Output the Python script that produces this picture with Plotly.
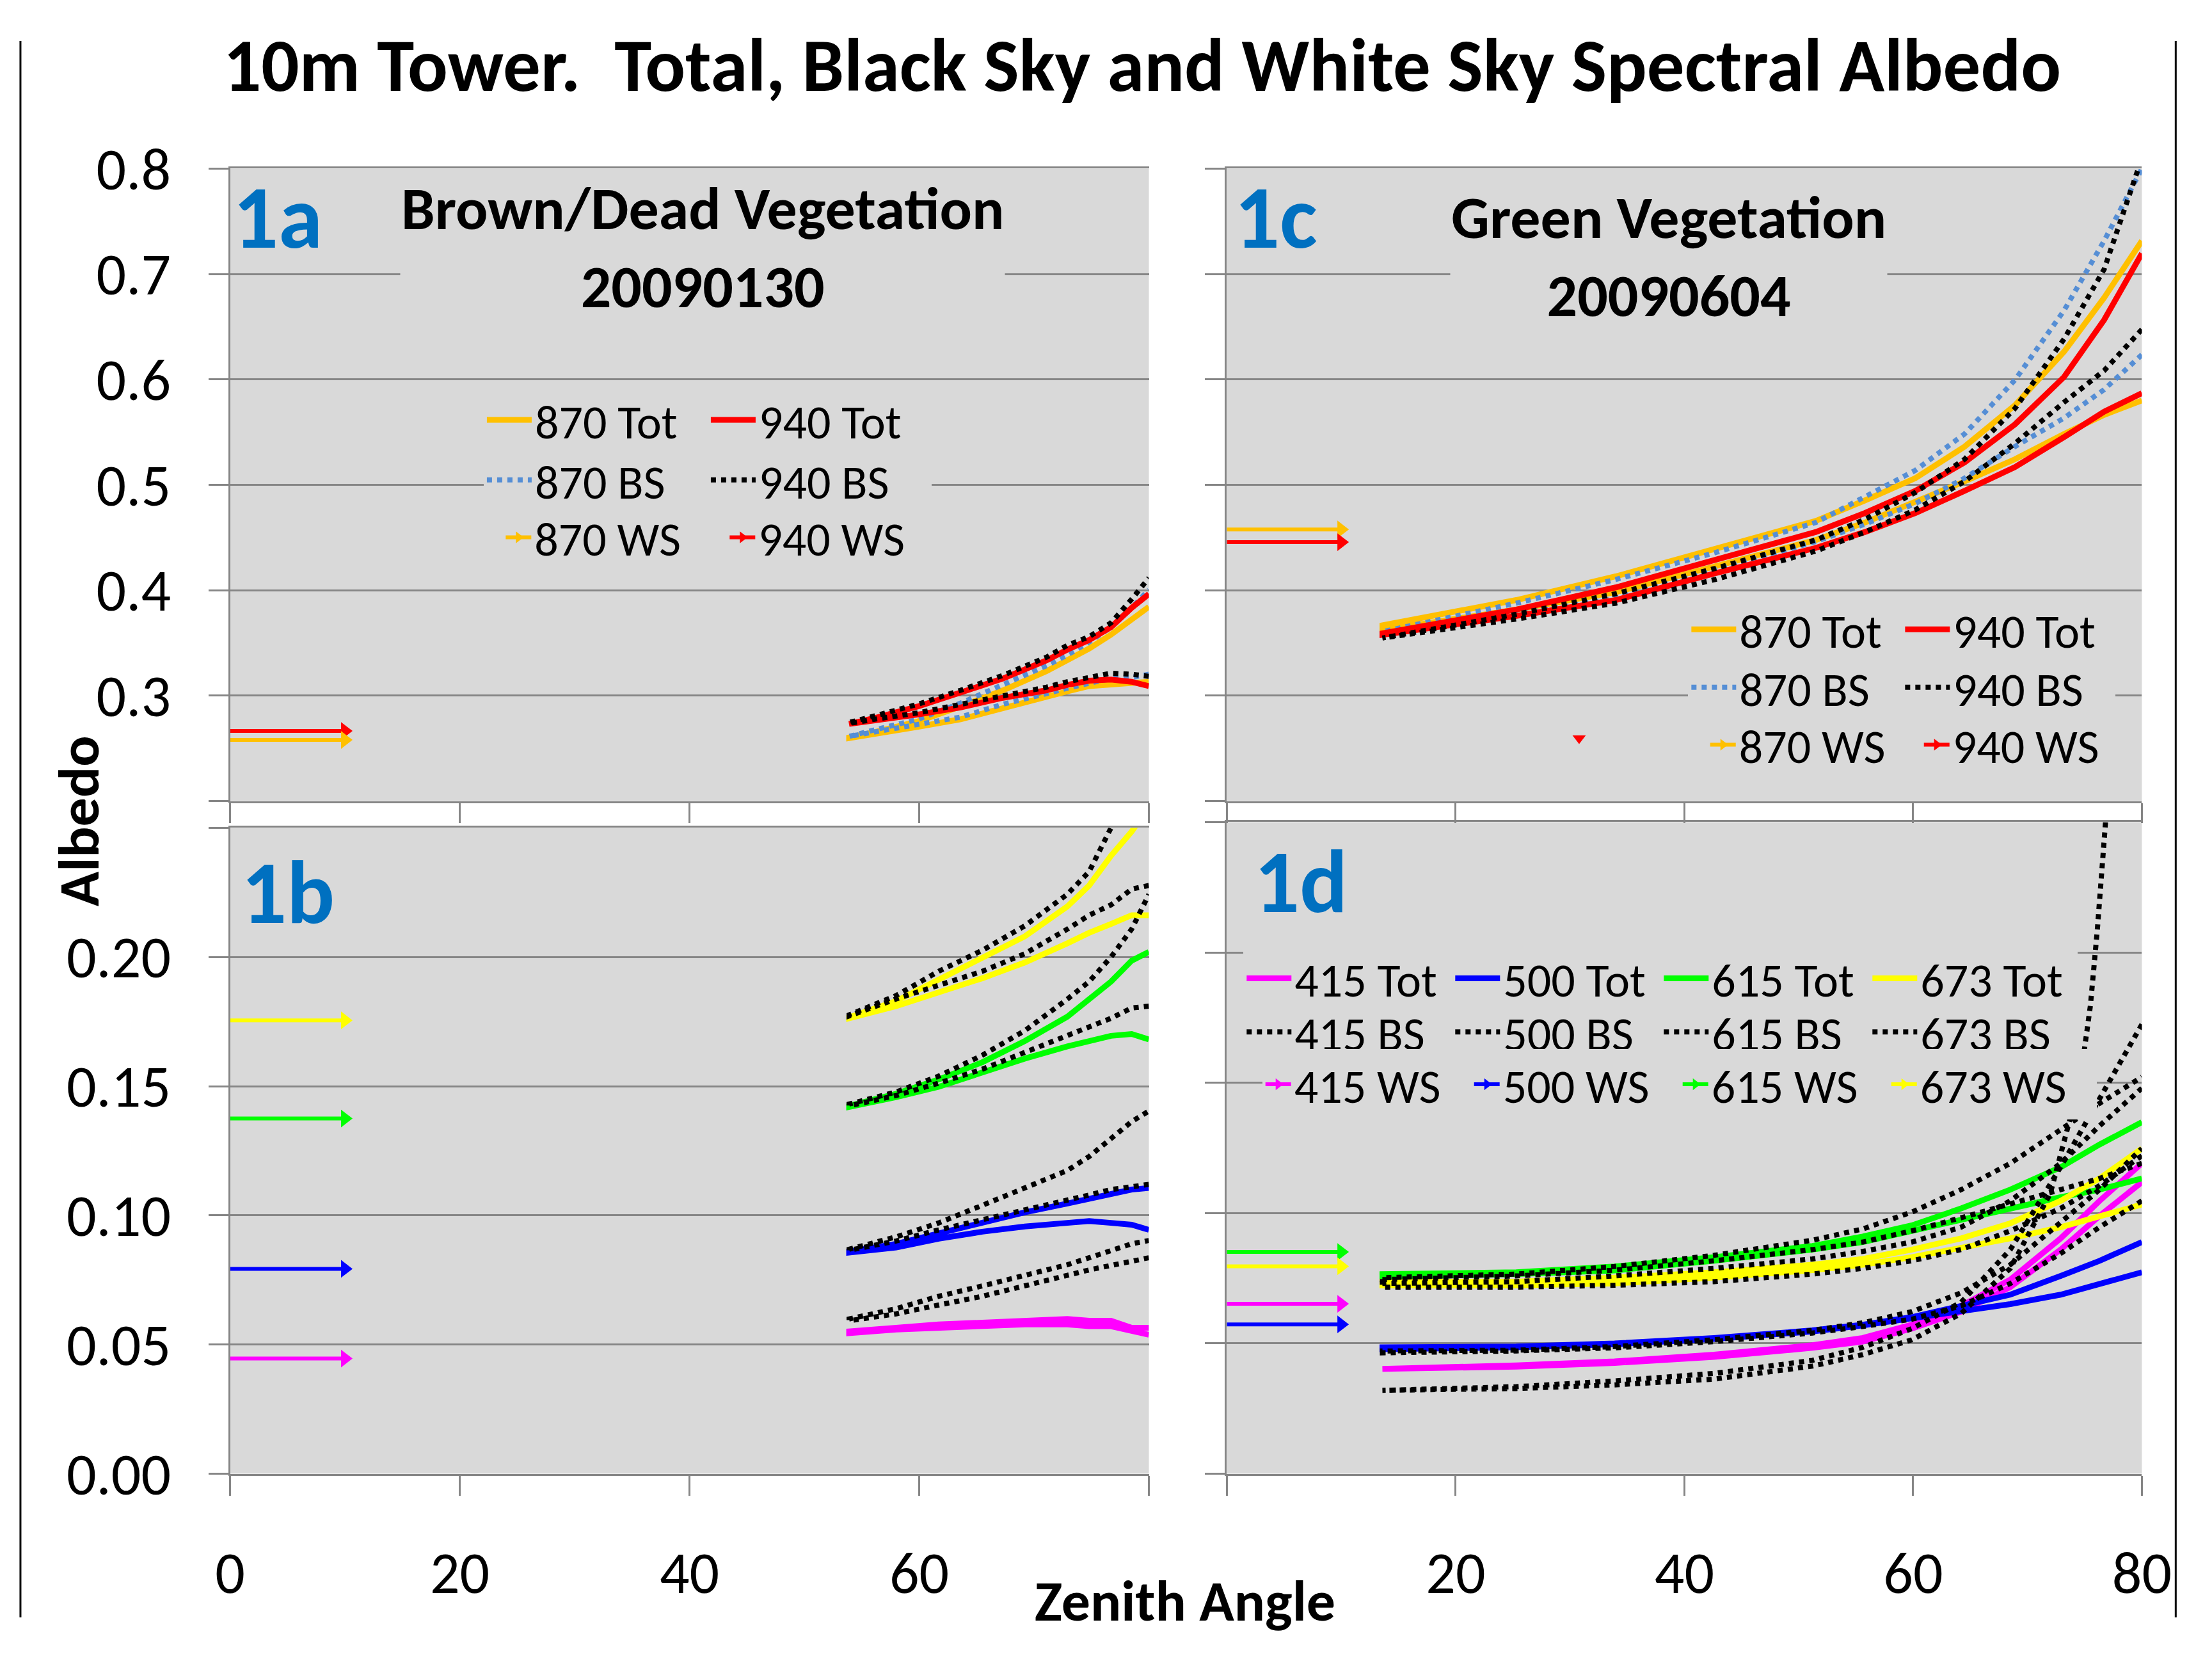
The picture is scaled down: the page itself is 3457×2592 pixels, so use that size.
import plotly.graph_objects as go

# ---------------------------------------------------------------- data
# Panel 1a : Brown/Dead Vegetation 20090130 (zenith angle, albedo)
ZEN_1A = [53.9, 56.1, 59.9, 63.6, 67.3, 71.1, 72.9, 74.8, 76.7, 78.5, 80.0]
A_870_TOT_UP = [0.2604, 0.2654, 0.2756, 0.2898, 0.3051, 0.3234, 0.3335, 0.3447, 0.3579, 0.3732, 0.3843]
A_870_TOT_LO = [0.2598, 0.2638, 0.2705, 0.2776, 0.2888, 0.2990, 0.3041, 0.3091, 0.3112, 0.3122, 0.3132]
A_870_BS_UP = [0.2614, 0.2675, 0.2776, 0.2929, 0.3102, 0.3285, 0.3386, 0.3508, 0.3650, 0.3833, 0.4006]
A_870_BS_LO = [0.2614, 0.2654, 0.2726, 0.2797, 0.2919, 0.3020, 0.3071, 0.3122, 0.3163, 0.3173, 0.3203]
A_940_TOT_UP = [0.2732, 0.2787, 0.2898, 0.3030, 0.3163, 0.3335, 0.3437, 0.3528, 0.3650, 0.3833, 0.3965]
A_940_TOT_LO = [0.2732, 0.2766, 0.2821, 0.2888, 0.2980, 0.3051, 0.3102, 0.3142, 0.3152, 0.3132, 0.3091]
A_940_BS_UP = [0.2746, 0.2807, 0.2919, 0.3051, 0.3193, 0.3366, 0.3478, 0.3559, 0.3691, 0.3915, 0.4118]
A_940_BS_LO = [0.2736, 0.2776, 0.2837, 0.2909, 0.3000, 0.3081, 0.3132, 0.3173, 0.3213, 0.3203, 0.3183]
A_870_WS = 0.2580
A_940_WS = 0.2665

# Panel 1b : Brown/Dead Vegetation, visible bands
ZEN_1B = [53.9, 58.0, 61.7, 65.5, 69.2, 72.9, 74.8, 76.7, 78.5, 80.0]
B_673_TOT_UP = [0.1767, 0.1830, 0.1911, 0.1993, 0.2080, 0.2196, 0.2277, 0.2392, 0.2486, 0.2580]
B_673_TOT_LO = [0.1763, 0.1810, 0.1864, 0.1918, 0.1979, 0.2053, 0.2094, 0.2128, 0.2162, 0.2162]
B_673_BS_UP = [0.1776, 0.1851, 0.1945, 0.2026, 0.2121, 0.2243, 0.2331, 0.2500, 0.2680, 0.2800]
B_673_BS_LO = [0.1772, 0.1838, 0.1891, 0.1945, 0.2013, 0.2108, 0.2162, 0.2202, 0.2263, 0.2277]
B_615_TOT_UP = [0.1424, 0.1471, 0.1526, 0.1593, 0.1675, 0.1769, 0.1837, 0.1905, 0.1986, 0.2020]
B_615_TOT_LO = [0.1420, 0.1458, 0.1498, 0.1553, 0.1607, 0.1654, 0.1675, 0.1695, 0.1702, 0.1681]
B_615_BS_UP = [0.1431, 0.1478, 0.1539, 0.1620, 0.1715, 0.1837, 0.1905, 0.2000, 0.2108, 0.2243]
B_615_BS_LO = [0.1424, 0.1464, 0.1512, 0.1566, 0.1627, 0.1695, 0.1729, 0.1763, 0.1803, 0.1810]
B_500_TOT_UP = [0.0860, 0.0890, 0.0930, 0.0971, 0.1012, 0.1046, 0.1066, 0.1086, 0.1100, 0.1106]
B_500_TOT_LO = [0.0856, 0.0876, 0.0910, 0.0937, 0.0957, 0.0971, 0.0978, 0.0971, 0.0964, 0.0944]
B_500_BS_UP = [0.0869, 0.0917, 0.0971, 0.1039, 0.1106, 0.1174, 0.1228, 0.1296, 0.1363, 0.1404]
B_500_BS_LO = [0.0865, 0.0901, 0.0944, 0.0985, 0.1025, 0.1059, 0.1079, 0.1100, 0.1113, 0.1120]
B_415_TOT_UP = [0.0551, 0.0565, 0.0578, 0.0585, 0.0592, 0.0599, 0.0592, 0.0592, 0.0565, 0.0565]
B_415_TOT_LO = [0.0544, 0.0558, 0.0565, 0.0571, 0.0578, 0.0578, 0.0571, 0.0571, 0.0551, 0.0538]
B_415_BS_UP = [0.0599, 0.0639, 0.0687, 0.0727, 0.0768, 0.0809, 0.0836, 0.0863, 0.0890, 0.0903]
B_415_BS_LO = [0.0592, 0.0619, 0.0653, 0.0687, 0.0727, 0.0768, 0.0789, 0.0809, 0.0823, 0.0836]
B_673_WS = 0.1755
B_615_WS = 0.1375
B_500_WS = 0.0793
B_415_WS = 0.0446

# Panel 1c : Green Vegetation 20090604
ZEN_1C = [13.6, 25.3, 34.0, 42.7, 51.5, 55.8, 60.2, 64.5, 68.9, 73.2, 76.7, 80.0]
C_870_TOT_UP = [0.3667, 0.3907, 0.4132, 0.4387, 0.4658, 0.4853, 0.5063, 0.5363, 0.5754, 0.6264, 0.6775, 0.7315]
C_870_TOT_LO = [0.3622, 0.3817, 0.3982, 0.4222, 0.4477, 0.4643, 0.4838, 0.5033, 0.5243, 0.5483, 0.5664, 0.5800]
C_870_BS_UP = [0.3607, 0.3877, 0.4102, 0.4357, 0.4643, 0.4883, 0.5138, 0.5483, 0.5994, 0.6655, 0.7315, 0.8000]
C_870_BS_LO = [0.3577, 0.3772, 0.3922, 0.4192, 0.4462, 0.4628, 0.4823, 0.5063, 0.5363, 0.5634, 0.5904, 0.6234]
C_940_TOT_UP = [0.3592, 0.3817, 0.4027, 0.4282, 0.4553, 0.4733, 0.4943, 0.5213, 0.5574, 0.6024, 0.6565, 0.7195]
C_940_TOT_LO = [0.3577, 0.3757, 0.3907, 0.4162, 0.4402, 0.4553, 0.4733, 0.4943, 0.5168, 0.5453, 0.5694, 0.5870]
C_940_BS_UP = [0.3547, 0.3772, 0.3967, 0.4207, 0.4477, 0.4673, 0.4928, 0.5243, 0.5724, 0.6384, 0.7045, 0.8100]
C_940_BS_LO = [0.3547, 0.3727, 0.3877, 0.4102, 0.4372, 0.4553, 0.4763, 0.5033, 0.5393, 0.5784, 0.6084, 0.6474]
C_870_WS = 0.4577
C_940_WS = 0.4456
C_STRAY_ZEN = [30.8]
C_STRAY_ALB = [0.2595]

# Panel 1d : Green Vegetation, visible bands
ZEN_1D = [13.6, 25.3, 33.9, 42.6, 51.2, 55.6, 59.9, 64.2, 68.5, 72.9, 76.3, 80.0]
ZEN_1D_SPIKE = [13.6, 25.3, 33.9, 42.6, 51.2, 55.6, 59.9, 64.2, 68.5, 72.0, 73.3, 74.6, 75.5, 76.1, 76.8, 77.2]
D_415_TOT_UP = [0.0406, 0.0416, 0.0431, 0.0457, 0.0493, 0.0521, 0.0572, 0.0644, 0.0745, 0.0903, 0.1047, 0.1191]
D_415_TOT_LO = [0.0402, 0.0411, 0.0425, 0.0448, 0.0483, 0.0507, 0.0557, 0.0622, 0.0716, 0.0860, 0.0989, 0.1119]
D_415_BS_UP = [0.0320, 0.0327, 0.0341, 0.0363, 0.0413, 0.0457, 0.0514, 0.0615, 0.0788, 0.1076, 0.1292, 0.1508, 0.1796, 0.2084, 0.2487, 0.2730]
D_415_BS_LO = [0.0320, 0.0334, 0.0356, 0.0385, 0.0435, 0.0485, 0.0557, 0.0658, 0.0860, 0.1177, 0.1436, 0.1724]
D_500_TOT_UP = [0.0485, 0.0488, 0.0500, 0.0521, 0.0550, 0.0572, 0.0601, 0.0644, 0.0687, 0.0759, 0.0817, 0.0889]
D_500_TOT_LO = [0.0478, 0.0485, 0.0497, 0.0517, 0.0546, 0.0569, 0.0593, 0.0622, 0.0651, 0.0687, 0.0730, 0.0773]
D_500_BS_UP = [0.0471, 0.0474, 0.0488, 0.0514, 0.0550, 0.0579, 0.0622, 0.0694, 0.0802, 0.0961, 0.1090, 0.1248]
D_500_BS_LO = [0.0464, 0.0471, 0.0483, 0.0507, 0.0540, 0.0565, 0.0593, 0.0644, 0.0730, 0.0845, 0.0946, 0.1047]
D_615_TOT_UP = [0.0766, 0.0773, 0.0795, 0.0831, 0.0874, 0.0910, 0.0953, 0.1018, 0.1090, 0.1176, 0.1263, 0.1349]
D_615_TOT_LO = [0.0756, 0.0766, 0.0780, 0.0817, 0.0860, 0.0889, 0.0932, 0.0975, 0.1018, 0.1061, 0.1090, 0.1133]
D_615_BS_UP = [0.0752, 0.0766, 0.0795, 0.0838, 0.0896, 0.0939, 0.1004, 0.1090, 0.1191, 0.1320, 0.1421, 0.1522]
D_615_BS_LO = [0.0745, 0.0759, 0.0781, 0.0817, 0.0860, 0.0889, 0.0932, 0.0982, 0.1033, 0.1090, 0.1133, 0.1191]
D_673_TOT_UP = [0.0737, 0.0737, 0.0752, 0.0773, 0.0802, 0.0824, 0.0860, 0.0903, 0.0961, 0.1047, 0.1133, 0.1248]
D_673_TOT_LO = [0.0723, 0.0723, 0.0730, 0.0752, 0.0781, 0.0802, 0.0831, 0.0867, 0.0903, 0.0946, 0.0989, 0.1033]
D_673_BS_UP = [0.0730, 0.0737, 0.0759, 0.0788, 0.0824, 0.0853, 0.0889, 0.0946, 0.1047, 0.1191, 0.1335, 0.1479]
D_673_BS_LO = [0.0716, 0.0716, 0.0723, 0.0737, 0.0766, 0.0788, 0.0817, 0.0860, 0.0932, 0.1018, 0.1105, 0.1220]
D_415_WS = 0.0652
D_500_WS = 0.0573
D_615_WS = 0.0851
D_673_WS = 0.0796

WS_ZEN = [0, 10]  # white-sky values drawn as short arrows at the left

X_TICKS = [0, 20, 40, 60, 80]
X_TEXT_LEFT = ["0", "20", "40", "60", ""]
X_TEXT_RIGHT = ["", "20", "40", "60", "80"]
Y_TICKS_TOP = [0.2, 0.3, 0.4, 0.5, 0.6, 0.7, 0.8]
Y_TEXT_TOP = ["", "0.3", "0.4", "0.5", "0.6", "0.7", "0.8"]
Y_TICKS_BOT = [0.0, 0.05, 0.10, 0.15, 0.20, 0.25]
Y_TEXT_BOT = ["0.00", "0.05", "0.10", "0.15", "0.20", ""]

# ---------------------------------------------------------------- style
FONT = "Carlito, Calibri, Lato, sans-serif"
PLOT_BG = "#D9D9D9"
GRID = "#868686"
C870 = "#FFC000"
C940 = "#FF0000"
C870BS = "#558ED5"
C415 = "#FF00FF"
C500 = "#0000FF"
C615 = "#00FF00"
C673 = "#FFFF00"
LABEL_BLUE = "#0070C0"

W, H, OFF = 3441, 2576, 8
# mapping between target-image pixels and page pixels (measured)
SX, AX, SY, AY = 0.981, 21.2, 0.9589, 54.3


def px(X):
    return ((X - AX) / SX - OFF) / W


def py(Y):
    return 1 - ((Y - AY) / SY - OFF) / H


fig = go.Figure()


def loop(zen_lo, lo, zen_up, up):
    return list(zen_lo[::-1]) + list(zen_up), list(lo[::-1]) + list(up)


def add_curve(zen_lo, lo, zen_up, up, name, color, dash, ax, legend, rank, show):
    x, y = loop(zen_lo, lo, zen_up, up)
    fig.add_trace(go.Scatter(
        x=x, y=y, mode="lines", name=name,
        line=dict(color=color, width=9 if dash == "solid" else 8, dash=dash),
        xaxis="x" + ax, yaxis="y" + ax,
        legend=legend, legendrank=rank,
        showlegend=show, hoverinfo="skip"))


def add_ws(val, name, color, ax, legend, rank, show):
    # drawn from the arrow tip back to the start: arrowhead at the tip only
    fig.add_trace(go.Scatter(
        x=WS_ZEN[::-1], y=[val, val], mode="lines+markers", name=name,
        line=dict(color=color, width=6),
        marker=dict(symbol=["triangle-right", "line-ew"], size=24, color=color,
                    line=dict(width=0)),
        xaxis="x" + ax, yaxis="y" + ax,
        legend=legend, legendrank=rank,
        showlegend=show, hoverinfo="skip"))


# ---- 1a
add_curve(ZEN_1A, A_870_TOT_LO, ZEN_1A, A_870_TOT_UP, "870 Tot", C870, "solid", "", "legend", 1, True)
add_curve(ZEN_1A, A_870_BS_LO, ZEN_1A, A_870_BS_UP, "870 BS", C870BS, "dot", "", "legend2", 1, True)
add_curve(ZEN_1A, A_940_TOT_LO, ZEN_1A, A_940_TOT_UP, "940 Tot", C940, "solid", "", "legend", 2, True)
add_curve(ZEN_1A, A_940_BS_LO, ZEN_1A, A_940_BS_UP, "940 BS", "#000000", "dot", "", "legend2", 2, True)
add_ws(A_940_WS, "940 WS", C940, "", "legend3", 2, True)
add_ws(A_870_WS, "870 WS", C870, "", "legend3", 1, True)

# ---- 1b
for (tot_lo, tot_up, bs_lo, bs_up, ws, col, nm) in [
    (B_673_TOT_LO, B_673_TOT_UP, B_673_BS_LO, B_673_BS_UP, B_673_WS, C673, "673"),
    (B_615_TOT_LO, B_615_TOT_UP, B_615_BS_LO, B_615_BS_UP, B_615_WS, C615, "615"),
    (B_500_TOT_LO, B_500_TOT_UP, B_500_BS_LO, B_500_BS_UP, B_500_WS, C500, "500"),
    (B_415_TOT_LO, B_415_TOT_UP, B_415_BS_LO, B_415_BS_UP, B_415_WS, C415, "415"),
]:
    add_curve(ZEN_1B, tot_lo, ZEN_1B, tot_up, nm + " Tot", col, "solid", "2", "legend", 9, False)
    add_curve(ZEN_1B, bs_lo, ZEN_1B, bs_up, nm + " BS", "#000000", "dot", "2", "legend", 9, False)
    add_ws(ws, nm + " WS", col, "2", "legend", 9, False)

# ---- 1c
add_curve(ZEN_1C, C_870_TOT_LO, ZEN_1C, C_870_TOT_UP, "870 Tot", C870, "solid", "3", "legend4", 1, True)
add_curve(ZEN_1C, C_870_BS_LO, ZEN_1C, C_870_BS_UP, "870 BS", C870BS, "dot", "3", "legend5", 1, True)
add_curve(ZEN_1C, C_940_TOT_LO, ZEN_1C, C_940_TOT_UP, "940 Tot", C940, "solid", "3", "legend4", 2, True)
add_curve(ZEN_1C, C_940_BS_LO, ZEN_1C, C_940_BS_UP, "940 BS", "#000000", "dot", "3", "legend5", 2, True)
add_ws(C_870_WS, "870 WS", C870, "3", "legend6", 1, True)
add_ws(C_940_WS, "940 WS", C940, "3", "legend6", 2, True)
fig.add_trace(go.Scatter(x=C_STRAY_ZEN, y=C_STRAY_ALB, mode="markers",
                         marker=dict(symbol="triangle-down", size=18, color=C940),
                         xaxis="x3", yaxis="y3", showlegend=False, hoverinfo="skip"))

# ---- 1d
bands_1d = [
    ("415", C415, D_415_TOT_LO, D_415_TOT_UP, D_415_WS, 1),
    ("500", C500, D_500_TOT_LO, D_500_TOT_UP, D_500_WS, 2),
    ("615", C615, D_615_TOT_LO, D_615_TOT_UP, D_615_WS, 3),
    ("673", C673, D_673_TOT_LO, D_673_TOT_UP, D_673_WS, 4),
]
for nm, col, lo, up, ws, rk in bands_1d:
    add_curve(ZEN_1D, lo, ZEN_1D, up, nm + " Tot", col, "solid", "4", "legend7", rk, True)
add_curve(ZEN_1D, D_673_BS_LO, ZEN_1D, D_673_BS_UP, "673 BS", "#000000", "dot", "4", "legend8", 4, True)
add_curve(ZEN_1D, D_615_BS_LO, ZEN_1D, D_615_BS_UP, "615 BS", "#000000", "dot", "4", "legend8", 3, True)
add_curve(ZEN_1D, D_500_BS_LO, ZEN_1D, D_500_BS_UP, "500 BS", "#000000", "dot", "4", "legend8", 2, True)
add_curve(ZEN_1D, D_415_BS_LO, ZEN_1D_SPIKE, D_415_BS_UP, "415 BS", "#000000", "dot", "4", "legend8", 1, True)
for nm, col, lo, up, ws, rk in bands_1d:
    add_ws(ws, nm + " WS", col, "4", "legend9", rk, True)

# ---------------------------------------------------------------- axes
tickfont = dict(family=FONT, size=92, color="#000000")


def xax(left, right, anchor, text):
    d = dict(domain=[px(left), px(right)], anchor=anchor, range=[0, 80],
             tickmode="array", tickvals=X_TICKS, showgrid=False, zeroline=False,
             showline=True, linecolor=GRID, linewidth=3, mirror=True,
             ticks="outside", ticklen=31, tickwidth=3, tickcolor=GRID,
             tickfont=tickfont, ticklabelstandoff=42, fixedrange=True)
    if text is None:
        d["showticklabels"] = False
    else:
        d["ticktext"] = text
    return d


def yax(top, bottom, anchor, rng, vals, text):
    d = dict(domain=[py(bottom), py(top)], anchor=anchor, range=rng,
             tickmode="array", tickvals=vals, showgrid=True, gridcolor=GRID, gridwidth=3,
             zeroline=False, showline=True, linecolor=GRID, linewidth=3,
             ticks="outside", ticklen=31, tickwidth=3, tickcolor=GRID,
             tickfont=tickfont, ticklabelstandoff=40, fixedrange=True)
    if text is None:
        d["showticklabels"] = False
    else:
        d["ticktext"] = text
    return d


LX0, LX1, RX0, RX1 = 358, 1796, 1918, 3350
fig.update_layout(
    xaxis=xax(LX0, LX1, "y", None),
    yaxis=yax(262, 1253, "x", [0.2, 0.8], Y_TICKS_TOP, Y_TEXT_TOP),
    xaxis2=xax(LX0, LX1, "y2", X_TEXT_LEFT),
    yaxis2=yax(1295, 2307, "x2", [0, 0.25], Y_TICKS_BOT, Y_TEXT_BOT),
    xaxis3=xax(RX0, RX1, "y3", None),
    yaxis3=yax(262, 1253, "x3", [0.2, 0.8], Y_TICKS_TOP, None),
    xaxis4=xax(RX0, RX1, "y4", X_TEXT_RIGHT),
    yaxis4=yax(1286, 2307, "x4", [0, 0.25], Y_TICKS_BOT, None),
)

# ---------------------------------------------------------------- legends (one per row)
LEG_FONT = 74


def leg(text_left, row_center, entry, iw=70):
    shift = (iw + 12.6) * SX
    return dict(x=px(text_left - shift), y=py(row_center - 61), xanchor="left", yanchor="top",
                bgcolor=PLOT_BG, borderwidth=0, orientation="h",
                font=dict(family=FONT, size=LEG_FONT, color="#000000"),
                itemwidth=iw, entrywidth=entry + (70 - iw), entrywidthmode="pixels",
                traceorder="normal", itemclick=False, itemdoubleclick=False)


fig.update_layout(
    legend=leg(836, 662, 265), legend2=leg(836, 756, 265), legend3=leg(836, 846, 265, 40),
    legend4=leg(2721, 990, 249), legend5=leg(2721, 1081, 249), legend6=leg(2721, 1171, 249, 40),
    legend7=leg(2025, 1537, 241), legend8=leg(2025, 1621, 241), legend9=leg(2025, 1703, 241, 40),
)

# ---------------------------------------------------------------- text
ann = []


def note(text, X, Y, size, color="#000000", bg=None, angle=0):
    d = dict(text=text, x=px(X), y=py(Y), xref="paper", yref="paper",
             xanchor="center", yanchor="middle", showarrow=False, textangle=angle,
             font=dict(family=FONT, size=size, color=color))
    if bg:
        d["bgcolor"] = bg
    ann.append(d)


note("<b>10m Tower.\u00a0 Total, Black Sky and White Sky Spectral Albedo</b>", 1785, 100, 117)
note("<b>Albedo</b>", 121, 1284, 90, angle=-90)
note("<b>Zenith Angle</b>", 1853, 2506, 90)
note("<b>Brown/Dead Vegetation</b><br><b>20090130</b>", 1098, 385, 94, bg=PLOT_BG)
note("<b>Green Vegetation</b><br><b>20090604</b>", 2610, 399, 94, bg=PLOT_BG)
note("<b>1a</b>", 433, 338, 140, color=LABEL_BLUE)
note("<b>1c</b>", 1995, 338, 140, color=LABEL_BLUE)
note("<b>1b</b>", 449, 1396, 140, color=LABEL_BLUE)
note("<b>1d</b>", 2034, 1379, 140, color=LABEL_BLUE)

shapes = [
    dict(type="line", xref="paper", yref="paper", x0=px(30), x1=px(30), y0=0, y1=1,
         line=dict(color="#000000", width=3)),
    dict(type="line", xref="paper", yref="paper", x0=0.9995, x1=0.9995, y0=0, y1=1,
         line=dict(color="#000000", width=3)),
]

fig.update_layout(
    width=W, height=H, margin=dict(l=0, r=0, t=0, b=0, pad=0),
    paper_bgcolor="#FFFFFF", plot_bgcolor=PLOT_BG,
    font=dict(family=FONT, color="#000000"),
    annotations=ann, shapes=shapes, hovermode=False,
)

fig.write_html("out.html")
